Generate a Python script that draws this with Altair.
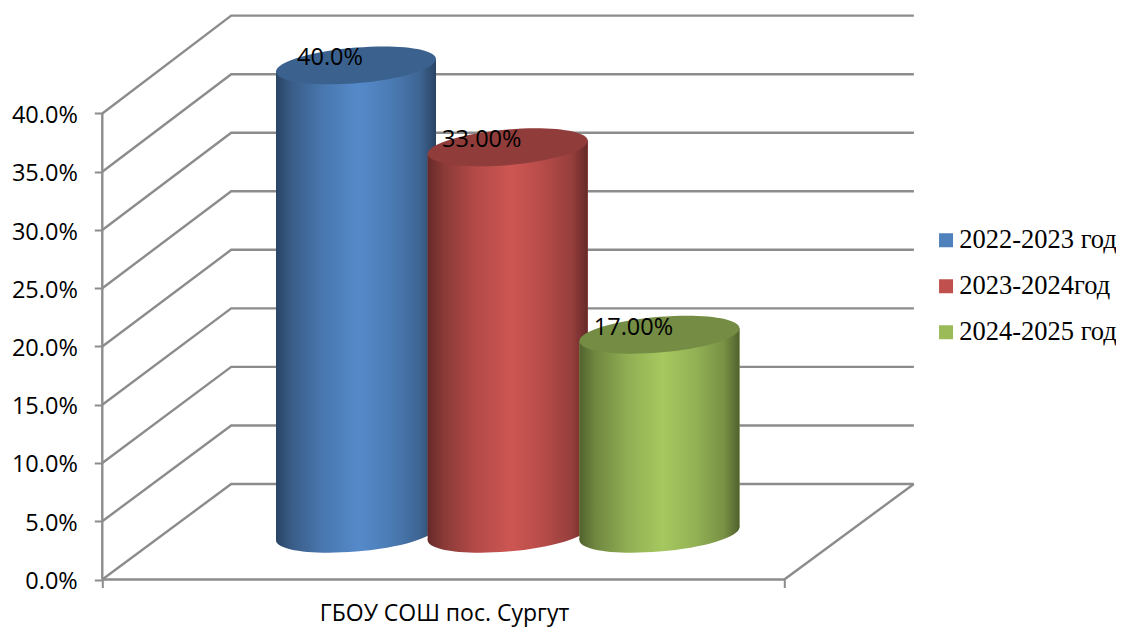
import altair as alt
import pandas as pd

# --- values
series = ["2022-2023 год", "2023-2024год", "2024-2025 год"]
values = [0.40, 0.33, 0.17]
labels = ["40.0%", "33.00%", "17.00%"]
colors = ["#4F81BD", "#C0504D", "#9BBB59"]
ticks = [0.0, 0.05, 0.10, 0.15, 0.20, 0.25, 0.30, 0.35, 0.40]
category = "ГБОУ СОШ пос. Сургут"

# --- pseudo-3D projection, in axis units (x: 1 = axis length, y: fraction)
PX_X, PX_Y = 682.0, 1165.0
DEPTH_X, DEPTH_Y = 0.189, 0.082
RIGHT = 1.19
PERSPECTIVE = 1.005
CYL_FIRST, CYL_STEP, CYL_HALF = 0.372, 0.2225, 0.1173
CYL_BASE = 0.0393
SHEAR = 6.5 / PX_Y

X_MAX, Y_MAX = 1.2, 571.5 / PX_Y


def ellipse_path(c=-0.081, b=0.223, k=0.5523):
    def p(u, v):
        return f"{u:.4f},{c * u + b * v:.4f}"
    return (
        f"M{p(-1, 0)} C{p(-1, -k)} {p(-k, -1)} {p(0, -1)} "
        f"C{p(k, -1)} {p(1, -k)} {p(1, 0)} "
        f"C{p(1, k)} {p(k, 1)} {p(0, 1)} "
        f"C{p(-k, 1)} {p(-1, k)} {p(-1, 0)} Z"
    )


ELLIPSE = ellipse_path()
ELLIPSE_SIZE = (2 * CYL_HALF * PX_X) ** 2

x_scale = alt.Scale(domain=[0, X_MAX], nice=False, zero=False)
y_scale = alt.Scale(domain=[0, Y_MAX], nice=False, zero=False)
color_scale = alt.Scale(domain=series, range=colors)
GRID = "#8C8C8C"

y_axis = alt.Axis(
    values=ticks, format=".1%", domain=False, grid=False,
    tickSize=8, tickWidth=2, tickColor=GRID, labelPadding=17, labelOffset=2,
    labelFontSize=23.5, labelFont="Open Sans", labelColor="#000000", title=None,
)
x_axis = alt.Axis(
    values=[0, 1], labels=False, domain=False, grid=False,
    tickSize=8, tickWidth=2, tickColor=GRID, title=category,
    titleFontSize=23, titleFont="Open Sans", titleFontWeight="normal",
    titleColor="#000000", titleX=341.7, titleY=34.5, titleBaseline="middle",
    titleAlign="center",
)


def X():
    return alt.X("x:Q", scale=x_scale, axis=x_axis, title=category)


def Y(**kw):
    return alt.Y("y:Q", scale=y_scale, axis=y_axis, title=None, **kw)


# --- walls and floor
wall_rows = []
for t in ticks:
    back = DEPTH_Y + t * PERSPECTIVE
    for o, (x, y) in enumerate([(0, t), (DEPTH_X, back), (RIGHT, back)]):
        wall_rows.append({"x": x, "y": y, "g": f"g{t}", "o": o})
for o, (x, y) in enumerate([(RIGHT, DEPTH_Y), (1, 0), (0, 0)]):
    wall_rows.append({"x": x, "y": y, "g": "floor", "o": o})
for o, (x, y) in enumerate([(0, 0), (0, max(ticks))]):
    wall_rows.append({"x": x, "y": y, "g": "axis", "o": o})

walls = alt.Chart(pd.DataFrame(wall_rows)).mark_line(
    color=GRID, strokeWidth=2.4, clip=False
).encode(x=X(), y=Y(), detail="g:N", order="o:Q")


def shade(col, f):
    r, g, b = (int(col[j:j + 2], 16) for j in (1, 3, 5))
    return "#%02X%02X%02X" % tuple(min(255, round(v * f)) for v in (r, g, b))


SIDE_STOPS = [(0.00, 0.53), (0.10, 0.72), (0.30, 0.93), (0.52, 1.07),
              (0.72, 0.95), (0.90, 0.78), (1.00, 0.52)]


def side(col):
    return alt.Gradient(
        gradient="linear", x1=0, x2=1, y1=0, y2=0,
        stops=[alt.GradientStop(offset=o, color=shade(col, f)) for o, f in SIDE_STOPS],
    )


layers = [walls]
for i, (name, value, col) in enumerate(zip(series, values, colors)):
    cx = CYL_FIRST + i * CYL_STEP
    base = CYL_BASE
    top = CYL_BASE + value * PERSPECTIVE
    base_df = pd.DataFrame([{"x": cx, "y": base}])
    top_df = pd.DataFrame([{"x": cx, "y": top}])
    body = pd.DataFrame([
        {"x": cx - CYL_HALF, "y": top - SHEAR, "y2": base - SHEAR, "series": name},
        {"x": cx + CYL_HALF, "y": top + SHEAR, "y2": base + SHEAR, "series": name},
    ])
    pt = dict(shape=ELLIPSE, size=ELLIPSE_SIZE, filled=True, strokeWidth=0, opacity=1, clip=False)
    # side: flat colour carries the legend, the gradient lies over it
    layers.append(alt.Chart(body).mark_area(opacity=1, line=False, clip=False).encode(
        x=X(), y=Y(stack=None), y2="y2:Q",
        color=alt.Color(
            "series:N", scale=color_scale,
            legend=alt.Legend(
                orient="none", legendX=830.5, legendY=219, title=None,
                symbolType="square", symbolSize=196, symbolStrokeWidth=0,
                symbolOpacity=1, labelFont="Liberation Serif", labelFontSize=26.5,
                labelColor="#000000", labelOffset=0, rowPadding=19,
                labelLimit=300, values=series,
            ),
        ),
    ))
    # bottom cap
    layers.append(alt.Chart(base_df).mark_point(fill=side(col), **pt).encode(x=X(), y=Y()))
    layers.append(alt.Chart(body).mark_area(fill=side(col), opacity=1, line=False, clip=False).encode(
        x=X(), y=Y(stack=None), y2="y2:Q",
    ))
    # top cap
    layers.append(alt.Chart(top_df).mark_point(fill=shade(col, 0.75), **pt).encode(x=X(), y=Y()))

label_df = pd.DataFrame({
    "x": [CYL_FIRST + i * CYL_STEP for i in range(3)],
    "y": [CYL_BASE + v * PERSPECTIVE for v in values],
    "label": labels,
})
layers.append(
    alt.Chart(label_df).mark_text(
        font="Open Sans", fontSize=23.5, color="#000000", dx=-26, dy=-7,
        align="center", baseline="middle", clip=False,
    ).encode(x=X(), y=Y(), text="label:N")
)

chart = alt.layer(*layers).properties(
    width=PX_X * X_MAX,
    height=571.5,
    autosize=alt.AutoSizeParams(type="none"),
    padding={"left": 94.3, "top": 0, "right": 195, "bottom": 48},
    background="#FFFFFF",
).configure_view(stroke=None)

chart.save("out.html", embed_options={"renderer": "svg", "actions": False})
